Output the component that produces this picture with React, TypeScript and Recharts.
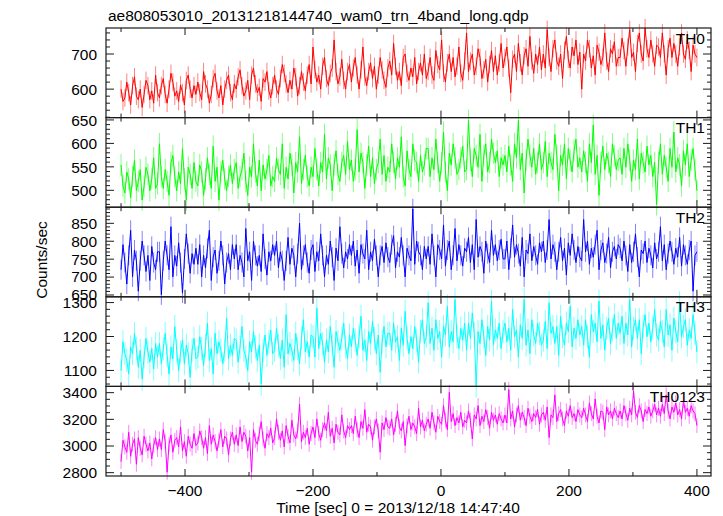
import React from 'react';
import { LineChart, Line, XAxis, YAxis, ErrorBar } from 'recharts';

// light curve bins: -500 s .. 400 s, every 3 s
const T_START = -500;
const T_STEP = 3;

const TH0 = [
  600, 565, 575, 620, 590, 555, 610, 635, 580, 570, 600, 548, 585, 625, 610, 570, 595, 560, 640, 590,
  575, 610, 630, 585, 560, 600, 645, 620, 580, 595, 565, 612, 590, 555, 625, 640, 600, 575, 610, 585,
  620, 590, 570, 650, 615, 600, 560, 585, 630, 645, 595, 575, 610, 555, 600, 625, 640, 590, 570, 615,
  600, 635, 655, 610, 580, 595, 625, 570, 640, 660, 615, 590, 605, 565, 630, 620, 650, 595, 575, 610,
  640, 600, 585, 630, 670, 645, 615, 590, 625, 600, 660, 635, 580, 610, 650, 620, 595, 640, 670, 615,
  720, 655, 620, 640, 600, 665, 690, 630, 610, 645, 660, 740, 650, 615, 635, 685, 625, 600, 650, 670,
  620, 660, 690, 640, 600, 655, 720, 635, 610, 650, 675, 630, 665, 600, 640, 690, 655, 625, 605, 660,
  680, 640, 730, 665, 625, 650, 610, 690, 700, 645, 625, 660, 635, 690, 615, 650, 675, 640, 700, 630,
  650, 690, 640, 625, 710, 670, 655, 740, 645, 620, 675, 700, 650, 690, 635, 665, 720, 645, 625, 680,
  760, 650, 680, 700, 640, 665, 715, 690, 630, 655, 685, 620, 670, 710, 650, 695, 640, 675, 730, 660,
  690, 720, 660, 590, 685, 700, 650, 730, 675, 640, 695, 715, 665, 750, 680, 645, 700, 670, 720, 655,
  700, 660, 770, 690, 650, 715, 740, 680, 665, 700, 630, 710, 750, 685, 660, 720, 695, 740, 670, 705,
  600, 700, 680, 740, 715, 660, 695, 640, 725, 705, 670, 690, 760, 680, 650, 715, 700, 735, 665, 690,
  690, 745, 710, 665, 720, 770, 690, 705, 650, 730, 760, 700, 680, 775, 715, 690, 740, 700, 665, 725,
  720, 690, 760, 700, 640, 715, 745, 690, 730, 700, 665, 720, 760, 700, 685, 740, 710, 650, 725, 700,
  690,
];

const TH1 = [
  555, 510, 495, 540, 525, 485, 530, 565, 500, 520, 545, 480, 510, 550, 535, 500, 525, 570, 505, 515,
  600, 530, 505, 545, 520, 490, 560, 575, 530, 500, 540, 515, 590, 525, 480, 550, 535, 505, 560, 520,
  510, 555, 540, 490, 525, 570, 535, 505, 595, 520, 550, 480, 540, 565, 525, 500, 530, 555, 515, 545,
  560, 505, 530, 545, 580, 520, 490, 550, 530, 600, 540, 510, 565, 500, 555, 525, 545, 575, 510, 530,
  520, 570, 545, 535, 600, 505, 550, 525, 580, 555, 495, 560, 540, 615, 515, 545, 575, 530, 510, 550,
  530, 590, 545, 510, 560, 540, 620, 525, 570, 555, 500, 555, 585, 535, 520, 560, 575, 535, 605, 545,
  565, 520, 545, 630, 540, 580, 560, 505, 555, 595, 530, 570, 515, 545, 560, 610, 535, 575, 520, 550,
  540, 600, 560, 525, 570, 550, 615, 530, 510, 585, 545, 530, 600, 565, 560, 520, 575, 540, 555, 590,
  590, 530, 570, 545, 610, 560, 520, 560, 625, 540, 500, 580, 555, 600, 570, 535, 545, 570, 595, 540,
  545, 650, 565, 530, 590, 575, 550, 620, 520, 575, 600, 540, 560, 610, 580, 560, 585, 530, 570, 555,
  575, 540, 595, 555, 520, 600, 570, 650, 545, 580, 495, 565, 610, 575, 550, 590, 535, 560, 600, 545,
  560, 605, 530, 580, 560, 545, 620, 575, 500, 575, 555, 600, 525, 590, 565, 540, 585, 610, 550, 570,
  540, 585, 560, 520, 600, 560, 640, 535, 575, 490, 560, 595, 545, 580, 560, 530, 600, 575, 545, 565,
  570, 535, 590, 550, 600, 565, 520, 565, 545, 610, 525, 580, 560, 540, 595, 555, 575, 530, 560, 470,
  560, 600, 535, 575, 550, 520, 590, 550, 625, 540, 570, 555, 510, 585, 555, 600, 530, 565, 590, 545,
  500,
];

const TH2 = [
  720, 790, 740, 680, 760, 830, 700, 775, 745, 660, 745, 800, 760, 715, 760, 690, 785, 740, 720, 770,
  770, 650, 745, 800, 760, 720, 840, 700, 760, 730, 795, 740, 655, 750, 820, 765, 710, 765, 735, 780,
  735, 790, 700, 760, 725, 780, 830, 690, 755, 775, 710, 745, 800, 760, 680, 740, 765, 720, 790, 750,
  790, 720, 760, 740, 700, 835, 745, 770, 690, 800, 760, 730, 760, 715, 820, 750, 705, 770, 745, 790,
  760, 800, 725, 770, 745, 690, 745, 810, 735, 780, 760, 700, 765, 850, 720, 760, 790, 740, 710, 775,
  790, 715, 770, 745, 820, 760, 700, 760, 735, 800, 755, 690, 780, 745, 840, 765, 725, 770, 750, 790,
  760, 800, 730, 775, 710, 790, 765, 750, 830, 720, 770, 745, 805, 760, 700, 760, 785, 740, 795, 755,
  740, 790, 815, 725, 770, 755, 810, 760, 700, 780, 760, 745, 890, 735, 800, 770, 760, 720, 785, 750,
  785, 735, 820, 760, 700, 790, 775, 750, 845, 730, 775, 800, 720, 760, 835, 745, 790, 760, 730, 780,
  770, 810, 740, 790, 720, 860, 755, 785, 770, 710, 800, 765, 740, 830, 760, 790, 745, 775, 805, 750,
  750, 800, 720, 780, 845, 755, 790, 765, 730, 810, 700, 775, 765, 820, 745, 785, 760, 735, 795, 770,
  800, 740, 775, 860, 750, 790, 770, 720, 770, 810, 745, 780, 705, 795, 760, 820, 775, 740, 785, 755,
  745, 860, 770, 800, 735, 780, 755, 790, 830, 720, 775, 795, 740, 765, 810, 725, 770, 785, 750, 790,
  780, 745, 800, 760, 715, 790, 740, 770, 820, 755, 700, 775, 765, 800, 740, 780, 760, 725, 795, 750,
  770, 840, 745, 790, 720, 765, 800, 770, 735, 780, 755, 810, 730, 790, 760, 735, 775, 800, 660, 760,
  770,
];

const TH3 = [
  1100, 1185, 1150, 1130, 1090, 1170, 1150, 1210, 1165, 1110, 1160, 1075, 1140, 1195, 1155, 1125, 1165, 1105, 1180, 1140,
  1180, 1120, 1165, 1210, 1145, 1090, 1170, 1135, 1230, 1160, 1100, 1155, 1190, 1120, 1175, 1150, 1080, 1160, 1195, 1135,
  1140, 1200, 1165, 1115, 1175, 1240, 1130, 1165, 1090, 1210, 1150, 1185, 1160, 1120, 1160, 1255, 1135, 1175, 1145, 1195,
  1190, 1125, 1170, 1230, 1160, 1140, 1100, 1185, 1155, 1215, 1170, 1130, 1175, 1060, 1160, 1205, 1145, 1185, 1220, 1150,
  1160, 1225, 1175, 1135, 1190, 1110, 1265, 1150, 1180, 1160, 1130, 1210, 1165, 1120, 1195, 1250, 1155, 1185, 1140, 1205,
  1200, 1140, 1285, 1165, 1210, 1180, 1125, 1190, 1155, 1230, 1175, 1110, 1215, 1185, 1160, 1195, 1240, 1170, 1135, 1205,
  1170, 1225, 1190, 1145, 1200, 1260, 1160, 1190, 1130, 1215, 1180, 1245, 1195, 1150, 1205, 1095, 1185, 1230, 1170, 1210,
  1210, 1160, 1240, 1185, 1200, 1130, 1225, 1175, 1275, 1195, 1150, 1200, 1165, 1230, 1190, 1125, 1215, 1250, 1180, 1200,
  1300, 1180, 1225, 1160, 1250, 1195, 1215, 1140, 1230, 1205, 1290, 1170, 1215, 1185, 1310, 1200, 1165, 1225, 1190, 1240,
  1160, 1240, 1195, 1270, 1210, 1055, 1215, 1180, 1250, 1200, 1145, 1230, 1190, 1305, 1175, 1220, 1195, 1240, 1165, 1215,
  1240, 1185, 1225, 1160, 1280, 1200, 1220, 1140, 1235, 1195, 1310, 1175, 1220, 1150, 1250, 1205, 1180, 1240, 1210, 1175,
  1190, 1245, 1165, 1300, 1210, 1230, 1180, 1230, 1145, 1260, 1200, 1175, 1240, 1215, 1290, 1170, 1225, 1195, 1250, 1205,
  1230, 1175, 1250, 1200, 1140, 1265, 1215, 1240, 1185, 1305, 1195, 1235, 1160, 1225, 1255, 1180, 1220, 1265, 1195, 1240,
  1210, 1260, 1180, 1240, 1205, 1310, 1170, 1225, 1250, 1195, 1250, 1150, 1230, 1265, 1200, 1240, 1185, 1225, 1280, 1205,
  1190, 1245, 1215, 1170, 1280, 1205, 1235, 1160, 1255, 1215, 1185, 1300, 1200, 1230, 1250, 1175, 1220, 1195, 1265, 1210,
  1155,
];

const TH0123 = [
  2880, 3040, 2990, 2950, 3100, 2920, 3010, 3050, 2860, 3060, 2980, 2930, 3070, 3010, 2960, 3020, 2900, 3000, 3060, 2970,
  3050, 2970, 3120, 3030, 2800, 3010, 3080, 2950, 3040, 3060, 2990, 3140, 2960, 3030, 2920, 3070, 3010, 2980, 3090, 3000,
  3020, 3110, 3060, 2980, 3060, 2940, 3150, 3010, 3080, 3030, 2960, 3040, 3120, 2990, 3070, 3050, 2930, 3050, 3100, 3010,
  3080, 3000, 3140, 3030, 3100, 3070, 2960, 3060, 2800, 3120, 3040, 3010, 3090, 3180, 3050, 2980, 3090, 3060, 3130, 3020,
  3060, 3200, 3100, 3040, 3110, 2990, 3150, 3070, 3020, 3190, 3080, 3050, 3110, 3310, 3030, 3100, 3060, 3130, 3010, 3090,
  3140, 3060, 3200, 3090, 3040, 3120, 3170, 3110, 3250, 3070, 3130, 3020, 3160, 3100, 3080, 3230, 3110, 3060, 3150, 3120,
  3150, 3090, 3220, 3120, 3060, 3180, 3130, 3270, 3100, 3160, 3140, 3040, 3140, 3200, 3110, 2950, 3170, 3120, 3210, 3140,
  3130, 3200, 3080, 3160, 3260, 3140, 3110, 3180, 3000, 3150, 3220, 3120, 3170, 3140, 3090, 3280, 3140, 3190, 3110, 3160,
  3200, 3130, 3250, 3170, 3100, 3220, 3180, 3160, 3300, 3190, 3120, 3400, 3180, 3240, 3150, 3210, 3170, 3250, 3140, 3190,
  3170, 3260, 3190, 3050, 3230, 3200, 3300, 3150, 3220, 3180, 3270, 3210, 3130, 3250, 3190, 3230, 3160, 3240, 3200, 3170,
  3230, 3170, 3420, 3200, 3260, 3140, 3230, 3300, 3190, 3250, 3210, 3150, 3280, 3220, 3180, 3240, 3210, 3270, 3160, 3230,
  3250, 3190, 3290, 3060, 3230, 3210, 3380, 3180, 3240, 3270, 3200, 3150, 3260, 3220, 3300, 3210, 3240, 3180, 3270, 3230,
  3210, 3280, 3230, 3180, 3320, 3240, 3200, 3350, 3220, 3170, 3260, 3250, 3120, 3290, 3230, 3260, 3200, 3280, 3240, 3210,
  3260, 3200, 3300, 3240, 3190, 3280, 3230, 3410, 3250, 3210, 3300, 3260, 3180, 3270, 3240, 3290, 3220, 3260, 3310, 3230,
  3280, 3220, 3310, 3240, 3380, 3260, 3200, 3290, 3250, 3320, 3230, 3270, 3200, 3340, 3250, 3280, 3220, 3300, 3260, 3240,
  3150,
];

// 1-sigma error of each band (counts/sec)
const TH0_ERR = 25;
const TH1_ERR = 23;
const TH2_ERR = 28;
const TH3_ERR = 34;
const TH0123_ERR = 56;

const X_TICKS = [-500, -400, -300, -200, -100, 0, 100, 200, 300, 400];
const X_LABELS = [-400, -200, 0, 200, 400];

const TH0_LABELS = [600, 700];
const TH1_LABELS = [500, 550, 600, 650];
const TH2_LABELS = [650, 700, 750, 800, 850];
const TH3_LABELS = [1100, 1200, 1300];
const TH0123_LABELS = [2800, 3000, 3200, 3400];

const TITLE = 'ae808053010_20131218144740_wam0_trn_4band_long.qdp';
const X_TITLE = 'Time [sec] 0 = 2013/12/18 14:47:40';
const Y_TITLE = 'Counts/sec';

const W = 723;
const H = 516;
const PLOT_LEFT = 106;
const PLOT_RIGHT = 711;
const PLOT_TOP = 28;
const PANEL_H = 89.6;
const AX_LEFT = 60;
const AX_TOP = 20;
const X_DOMAIN: [number, number] = [-523.5, 422];
const FONT = '"Liberation Sans", Arial, Helvetica, sans-serif';
const AXIS = '#1a1a1a';

const data = TH0.map((v, i) => ({
  t: T_START + i * T_STEP,
  th0: v,
  th1: TH1[i],
  th2: TH2[i],
  th3: TH3[i],
  th0123: TH0123[i],
}));

const range = (lo: number, hi: number, step: number) => {
  const out: number[] = [];
  for (let v = Math.ceil(lo / step) * step; v <= hi; v += step) out.push(v);
  return out;
};

const panels = [
  { name: 'TH0', key: 'th0', color: '#ff0000', err: TH0_ERR, domain: [519, 774], minor: 20, labels: TH0_LABELS },
  { name: 'TH1', key: 'th1', color: '#00ff00', err: TH1_ERR, domain: [464, 655], minor: 10, labels: TH1_LABELS },
  { name: 'TH2', key: 'th2', color: '#0000ff', err: TH2_ERR, domain: [645, 895], minor: 10, labels: TH2_LABELS },
  { name: 'TH3', key: 'th3', color: '#00ffff', err: TH3_ERR, domain: [1053, 1317], minor: 20, labels: TH3_LABELS },
  { name: 'TH0123', key: 'th0123', color: '#ff00ff', err: TH0123_ERR, domain: [2775, 3447], minor: 50, labels: TH0123_LABELS },
];

const fmt = (v: number) => (v < 0 ? '\u2212' + Math.abs(v) : String(v));

// pixel position of an axis value inside the fixed frame (for the tick marks)
const xPix = (t: number) => PLOT_LEFT + ((t - X_DOMAIN[0]) / (X_DOMAIN[1] - X_DOMAIN[0])) * (PLOT_RIGHT - PLOT_LEFT);
const yPix = (v: number, d: number[], top: number) => top + PANEL_H - ((v - d[0]) / (d[1] - d[0])) * PANEL_H;

const XLabel = (props: any) => {
  const { x, y, payload, showLabel } = props;
  const v = payload.value;
  if (!showLabel || !X_LABELS.includes(v)) return <g />;
  return (
    <text x={x} y={y + 20} textAnchor="middle" fontSize={15.5} fontFamily={FONT} fill="#000">
      {fmt(v)}
    </text>
  );
};

const YLabel = (props: any) => {
  const { x, y, payload, labels } = props;
  const v = payload.value;
  if (!labels.includes(v)) return <g />;
  return (
    <text x={x - 9} y={y} dy="0.36em" textAnchor="end" fontSize={15.5} fontFamily={FONT} fill="#000">
      {fmt(v)}
    </text>
  );
};

const Panel = ({ p, index }: { p: typeof panels[number]; index: number }) => {
  const last = index === panels.length - 1;
  const axBottom = last ? 40 : 20;
  return (
    <div style={{ position: 'absolute', left: 0, top: PLOT_TOP + index * PANEL_H - AX_TOP }}>
      <LineChart
        width={W}
        height={AX_TOP + PANEL_H + axBottom}
        data={data}
        margin={{ top: AX_TOP, right: W - PLOT_RIGHT, bottom: 0, left: PLOT_LEFT - AX_LEFT }}
      >
        <XAxis
          dataKey="t"
          type="number"
          domain={X_DOMAIN}
          allowDataOverflow
          ticks={X_TICKS}
          interval={0}
          height={axBottom}
          tickSize={0}
          tickMargin={0}
          tickLine={false}
          axisLine={false}
          tick={(tp: any) => <XLabel {...tp} showLabel={last} />}
        />
        <YAxis
          type="number"
          domain={p.domain}
          allowDataOverflow
          ticks={p.labels}
          interval={0}
          width={AX_LEFT}
          tickSize={0}
          tickMargin={0}
          tickLine={false}
          axisLine={false}
          tick={(tp: any) => <YLabel {...tp} labels={p.labels} />}
        />
        <Line dataKey={p.key} stroke={p.color} strokeWidth={1} dot={false} isAnimationActive={false}>
          <ErrorBar
            dataKey={() => p.err}
            direction="y"
            width={0}
            stroke={p.color}
            strokeOpacity={0.5}
            strokeWidth={1}
            isAnimationActive={false}
          />
        </Line>
      </LineChart>
    </div>
  );
};

// panel boxes with inward major/minor ticks on all four sides
const Frames = () => (
  <g stroke={AXIS} fill="none">
    {panels.map((p, i) => {
      const top = PLOT_TOP + i * PANEL_H;
      const bottom = top + PANEL_H;
      const yTicks = range(p.domain[0], p.domain[1], p.minor);
      return (
        <g key={p.name}>
          <rect x={PLOT_LEFT} y={top} width={PLOT_RIGHT - PLOT_LEFT} height={PANEL_H} strokeWidth={1.2} />
          {X_TICKS.map((t) => {
            const len = X_LABELS.includes(t) ? 7 : 4;
            const x = xPix(t);
            return (
              <g key={t}>
                <line x1={x} x2={x} y1={top} y2={top + len} />
                <line x1={x} x2={x} y1={bottom} y2={bottom - len} />
              </g>
            );
          })}
          {yTicks.map((v) => {
            const len = p.labels.includes(v) ? 8 : 4;
            const y = yPix(v, p.domain, top);
            return (
              <g key={v}>
                <line x1={PLOT_LEFT} x2={PLOT_LEFT + len} y1={y} y2={y} />
                <line x1={PLOT_RIGHT} x2={PLOT_RIGHT - len} y1={y} y2={y} />
              </g>
            );
          })}
        </g>
      );
    })}
  </g>
);

export default function App() {
  return (
    <div style={{ position: 'absolute', left: 0, top: 0, width: W, height: H, background: '#fff', overflow: 'hidden' }}>
      {panels.map((p, i) => (
        <Panel key={p.name} p={p} index={i} />
      ))}
      <svg width={W} height={H} style={{ position: 'absolute', left: 0, top: 0, pointerEvents: 'none' }}>
        <Frames />
        <text x={108} y={21} fontSize={15.5} fontFamily={FONT} fill="#000">
          {TITLE}
        </text>
        <text x={398} y={513} fontSize={15.5} fontFamily={FONT} fill="#000" textAnchor="middle">
          {X_TITLE}
        </text>
        <text
          x={0}
          y={0}
          transform="translate(46.5 260) rotate(-90)"
          fontSize={15.5}
          fontFamily={FONT}
          fill="#000"
          textAnchor="middle"
        >
          {Y_TITLE}
        </text>
        {panels.map((p, i) => (
          <text
            key={p.name}
            x={705}
            y={PLOT_TOP + i * PANEL_H + 15.5}
            fontSize={15.5}
            fontFamily={FONT}
            fill="#000"
            textAnchor="end"
          >
            {p.name}
          </text>
        ))}
      </svg>
    </div>
  );
}
